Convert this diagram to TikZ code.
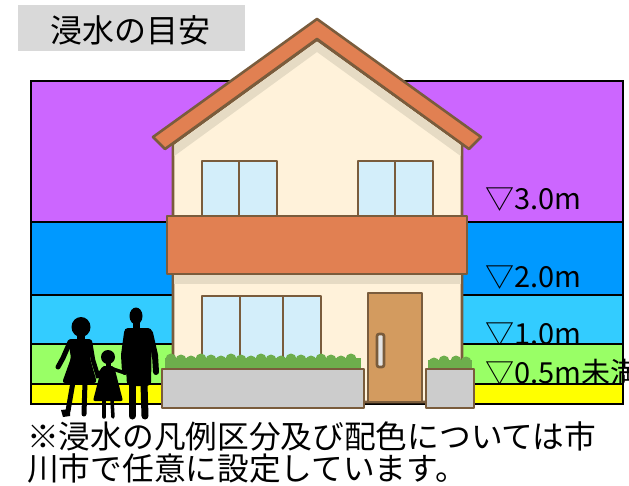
\documentclass[tikz,border=0pt]{standalone}
\usepackage{fontspec}
\newfontfamily\jpfont{Noto Sans CJK JP}

\definecolor{floodpurple}{HTML}{CC66FF}
\definecolor{floodblue}{HTML}{0099FF}
\definecolor{floodcyan}{HTML}{33CCFF}
\definecolor{floodgreen}{HTML}{99FF66}
\definecolor{floodyellow}{HTML}{FFFF00}
\definecolor{titlegray}{HTML}{D9D9D9}
\definecolor{housebrown}{HTML}{7A5C3C}
\definecolor{rooforange}{HTML}{E18052}
\definecolor{wallcream}{HTML}{FFF2DA}
\definecolor{wallshade}{HTML}{E6DBC4}
\definecolor{glass}{HTML}{D3EEFA}
\definecolor{doorbrown}{HTML}{D39B5F}
\definecolor{handlegray}{HTML}{E4E4E4}
\definecolor{plantergray}{HTML}{CCCCCC}
\definecolor{bushgreen}{HTML}{6DAE4C}

\tikzset{
  band/.style={draw=black, line width=1.4},
  houseline/.style={draw=housebrown, line width=2.6, line join=round},
  level/.style={anchor=base west, inner sep=0, font=\jpfont\fontsize{29}{31}\selectfont},
  note/.style={anchor=base west, inner sep=0, font=\jpfont\fontsize{31.7}{36}\selectfont},
  limb/.style={line width=#1, line cap=round, line join=round}
}

\begin{document}
\begin{tikzpicture}[x=1pt,y=-1pt]
\clip (0,0) rectangle (629,485);
\fill[white] (0,0) rectangle (629,485);

\fill[titlegray] (18,5) rectangle (245,51);
\node[note, font=\jpfont\fontsize{32}{36}\selectfont] (title) at (50,42) {浸水の目安};

\filldraw[band, fill=floodpurple] (31,81) rectangle (623,222);
\filldraw[band, fill=floodblue] (31,222) rectangle (623,295);
\filldraw[band, fill=floodcyan] (31,295) rectangle (623,344);
\node[level] (lv30) at (485,209) {▽3.0m};
\node[level] (lv20) at (485,287) {▽2.0m};
\node[level] (lv10) at (485,344) {▽1.0m};
\filldraw[band, fill=floodgreen] (31,344) rectangle (623,384);
\node[level] (lv05) at (485,383) {▽0.5m未満};
\filldraw[band, fill=floodyellow] (31,384) rectangle (623,404);

% mother
\fill (81,327) ellipse (9.5 and 10);
\fill (77,333) rectangle (85,341);
\fill[rounded corners=3] (68,339) -- (92,339) -- (90,358) -- (97,383) -- (62,383) -- (71,358) -- cycle;
\draw[limb=5] (70,342) -- (63,358) -- (58,367);
\draw[limb=4.5] (90,342) -- (93,360) -- (98,376);
\draw[limb=5] (73,382) -- (68,411);
\draw[limb=5] (85,382) -- (84,414);
\fill (61,410) -- (70,409) -- (70,416) -- (63,417) -- cycle;

% child
\fill (108,357) circle (7);
\fill (106,363) rectangle (111,368);
\fill[rounded corners=2] (102,366) -- (114,366) -- (123,401) -- (93,401) -- cycle;
\draw[limb=3.5] (103,369) -- (97,377);
\draw[limb=3.5] (113,369) -- (125,373);
\draw[limb=3.5] (104,400) -- (104,417);
\draw[limb=3.5] (112,400) -- (113,417);

% father
\fill (136,316) ellipse (6.5 and 8.5);
\fill (133,322) rectangle (140,330);
\fill[rounded corners=4] (124,328) -- (152,328) -- (151,386) -- (127,386) -- cycle;
\draw[limb=6] (127,333) -- (124,355) -- (125,372);
\draw[limb=6] (150,333) -- (155,355) -- (156,372);
\draw[limb=7] (132,384) -- (132,416);
\draw[limb=7] (144,384) -- (145,416);

% house
\filldraw[houseline, fill=wallcream] (173,402) -- (173,144) -- (317,40) -- (462,144) -- (462,402) -- cycle;
\fill[wallshade] (174.3,145) -- (317,41.5) -- (460.7,145) -- (460.7,156) -- (317,52) -- (174.3,156) -- cycle;
\filldraw[houseline, fill=glass] (202,161) rectangle (277,216);
\draw[houseline] (239,161) -- (239,216);
\filldraw[houseline, fill=glass] (358,161) rectangle (433,216);
\draw[houseline] (395,161) -- (395,216);
\filldraw[houseline, fill=rooforange] (317,19) -- (153,137) -- (165,149) -- (317,39) -- (469,149) -- (481,137) -- cycle;

\fill[wallshade] (174.3,274) rectangle (460.7,284);
\filldraw[houseline, fill=rooforange] (167,216) rectangle (467,274);

\filldraw[houseline, fill=glass] (202,296) rectangle (321,368);
\draw[houseline] (240,296) -- (240,368) (283,296) -- (283,368);

\filldraw[houseline, fill=doorbrown] (368,293) rectangle (422,402);
\filldraw[houseline, fill=handlegray, rounded corners=2] (377,334) rectangle (384,367);

% hedges and planters
\fill[bushgreen] (165,358) rectangle (361,370);
\foreach \x in {171,181,...,355}
  \fill[bushgreen] (\x,{359+mod(\x,3)}) circle (5.5);
\fill[bushgreen] (428,360) rectangle (472,370);
\foreach \x in {434,444,456,466}
  \fill[bushgreen] (\x,{361+mod(\x,3)}) circle (5.5);
\filldraw[houseline, fill=plantergray] (162,369) rectangle (364,408);
\filldraw[houseline, fill=plantergray] (426,369) rectangle (474,408);

\node[note] (note1) at (27,448) {※浸水の凡例区分及び配色については市};
\node[note] (note2) at (27,480.5) {川市で任意に設定しています。};
\end{tikzpicture}
\end{document}
